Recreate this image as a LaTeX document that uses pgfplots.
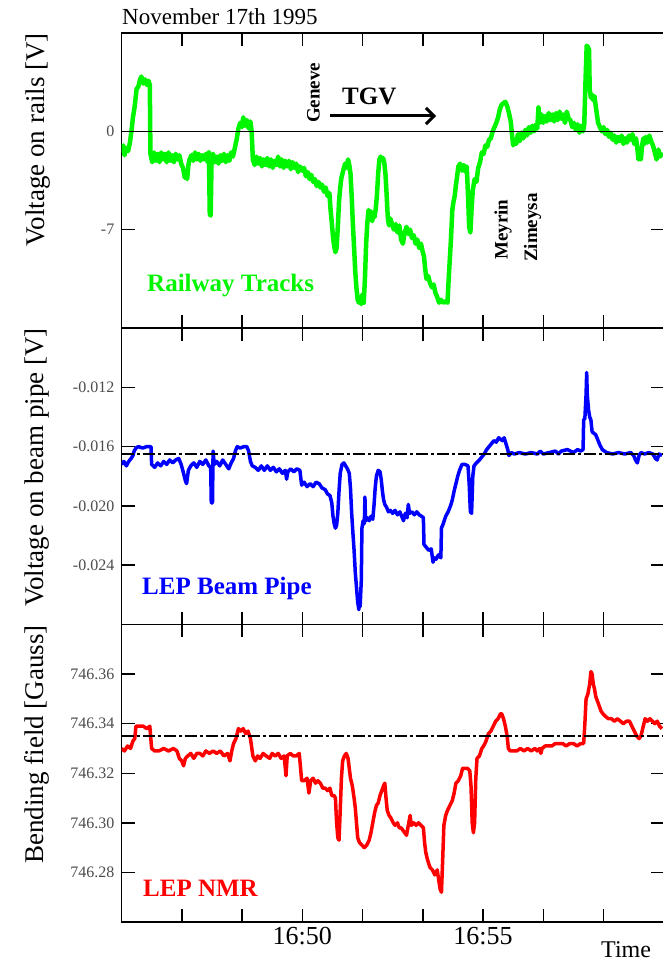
\documentclass[border=0pt]{standalone}
\usepackage{fontspec}
\setmainfont{Liberation Serif}
\usepackage{pgfplots}
\usepackage{pgfplotstable}
\pgfplotsset{compat=1.18}
\usetikzlibrary{arrows.meta}
\definecolor{railgreen}{RGB}{0,245,0}
\definecolor{pipeblue}{RGB}{0,0,255}
\definecolor{nmrred}{RGB}{255,0,0}

% time in seconds after 16:45
\pgfplotstableread{
t v
0 -1.5
3 -1.0
5 -1.7
8 -1.2
11 -1.4
14 -0.8
17 0.2
19 1.0
22 1.8
25 3.0
28 3.2
31 3.7
33 3.9
36 3.4
39 3.7
42 3.3
45 3.6
47 3.3
48 -1.6
51 -2.2
54 -1.5
57 -2.1
60 -1.6
63 -2.2
66 -1.5
69 -2.0
72 -1.6
75 -2.2
78 -1.5
81 -2.1
84 -1.7
87 -2.2
90 -1.6
93 -2.0
96 -1.7
99 -2.3
102 -2.6
105 -3.3
107 -3.0
109 -3.4
111 -2.4
113 -2.0
116 -1.7
119 -2.1
122 -1.5
125 -2.0
128 -1.6
131 -2.1
134 -1.7
137 -2.0
140 -1.6
143 -2.2
145 -1.5
146.5 -5.9
148 -6.0
149.5 -2.0
152 -1.6
155 -2.2
158 -1.8
161 -2.3
164 -1.7
167 -2.1
170 -1.6
173 -2.2
176 -1.7
179 -2.1
182 -1.5
185 -1.8
188 -1.2
191 -0.6
194 0.2
197 0.6
200 0.3
202 1.0
205 0.4
208 0.8
211 0.2
214 0.7
216 0.0
218 -2.0
221 -2.4
224 -1.8
227 -2.3
230 -1.9
233 -2.5
236 -2.0
239 -2.4
242 -1.9
245 -2.5
248 -2.0
251 -2.6
254 -2.1
257 -2.4
260 -1.8
263 -2.5
266 -2.0
269 -2.6
272 -2.1
275 -2.5
278 -2.1
281 -2.7
284 -2.2
287 -2.6
290 -2.3
293 -2.9
296 -2.5
300 -2.8
303 -2.6
306 -3.2
309 -2.9
312 -3.4
315 -3.1
318 -3.6
321 -3.4
324 -3.9
327 -3.6
330 -4.0
333 -3.8
336 -4.3
339 -4.0
342 -4.6
345 -4.4
347 -5.6
349 -6.5
351 -7.5
353 -8.2
355 -8.6
357 -8.3
359 -6.8
361 -5.0
363 -4.0
365 -3.3
368 -2.8
371 -2.3
374 -2.6
376 -2.0
378 -2.4
380 -3.0
382 -4.6
384 -6.6
386 -8.3
388 -10.0
390 -11.2
392 -12.0
394 -12.2
396 -11.8
398 -12.3
400 -11.6
402 -12.2
404 -10.5
406 -8.0
408 -6.5
410 -5.6
412 -6.2
414 -5.7
416 -6.4
418 -5.8
420 -6.1
422 -5.5
424 -4.5
426 -3.0
428 -2.0
430 -1.8
432 -2.0
434 -1.9
436 -2.2
438 -3.0
440 -4.5
442 -6.2
444 -6.7
446 -6.2
449 -6.6
452 -7.0
455 -6.6
458 -7.2
461 -6.7
464 -7.7
467 -8.0
470 -7.2
473 -6.8
476 -7.3
479 -7.0
482 -7.6
485 -7.4
488 -8.0
491 -7.7
494 -8.3
497 -8.0
500 -8.6
502 -8.9
504 -9.8
506 -10.5
509 -10.3
512 -10.8
515 -11.1
518 -10.9
521 -11.5
524 -11.8
527 -12.2
530 -12.0
534 -12.2
538 -12.1
541 -12.2
543 -10.5
545 -9.0
547 -7.5
549 -5.6
551 -5.0
553 -4.6
555 -3.8
557 -3.2
559 -2.5
562 -2.3
565 -2.8
568 -2.4
571 -2.9
573 -2.5
575 -4.5
577 -6.8
579 -7.2
581 -5.5
583 -4.2
586 -3.4
589 -3.6
592 -2.6
595 -2.2
598 -1.5
601 -1.6
604 -1.0
607 -1.1
610 -0.6
613 -0.5
616 0.0
619 0.3
622 0.6
625 1.0
628 1.6
631 1.9
634 2.0
637 2.1
640 1.8
643 1.3
646 0.7
648 -0.2
650 -1.0
652 -0.6
655 -0.9
658 -0.2
661 -0.7
664 -0.1
667 -0.5
670 0.1
673 -0.3
676 0.3
679 -0.1
682 0.4
685 0.0
688 0.5
690 0.2
692 1.7
694 0.6
697 1.2
700 0.6
703 1.1
706 0.7
709 1.3
712 0.8
715 1.2
718 0.7
721 1.3
724 0.8
727 1.4
730 0.9
733 1.2
736 0.6
739 1.4
742 0.9
745 0.8
748 0.3
751 0.6
754 0.1
757 0.5
760 -0.1
763 0.4
766 0.0
768 0.5
770 3.5
772 6.1
774 6.0
776 5.8
777 3.0
779 2.4
781 2.6
783 2.2
785 2.5
787 1.8
789 1.2
791 0.6
794 0.3
797 0.0
800 0.3
803 -0.2
806 0.1
809 -0.4
812 -0.1
815 -0.6
818 -0.3
821 -0.8
824 -0.4
827 -0.7
830 -0.3
833 -0.9
836 -0.5
839 -0.8
842 -0.3
845 -0.6
848 -0.2
851 -0.9
854 -0.5
856 -1.2
858 -2.0
860 -1.6
862 -2.0
864 -1.0
866 -0.5
868 -0.9
870 -0.4
873 -0.8
876 -0.3
879 -0.7
882 -1.0
885 -1.5
888 -2.0
891 -1.3
894 -1.8
897 -1.5
}\railtable

\pgfplotstableread{
t v
0 -0.0172
4 -0.0170
8 -0.0173
12 -0.0170
16 -0.0168
19 -0.0166
21 -0.0163
24 -0.0161
28 -0.0160
35 -0.0161
42 -0.0160
49 -0.0160
50 -0.0172
55 -0.0174
60 -0.0171
65 -0.0173
70 -0.0170
75 -0.0172
80 -0.0169
85 -0.0171
90 -0.0169
95 -0.0168
99 -0.0172
103 -0.0178
106 -0.0183
108 -0.0185
111 -0.0176
115 -0.0173
120 -0.0171
125 -0.0174
130 -0.0170
135 -0.0172
140 -0.0169
145 -0.0173
148 -0.0174
149 -0.0198
151 -0.0198
152 -0.0163
154 -0.0172
158 -0.0170
163 -0.0173
168 -0.0169
173 -0.0172
178 -0.0175
182 -0.0171
186 -0.0168
189 -0.0163
192 -0.0160
197 -0.0161
203 -0.0160
208 -0.0160
211 -0.0163
214 -0.0170
217 -0.0173
222 -0.0174
227 -0.0176
232 -0.0173
237 -0.0176
242 -0.0173
247 -0.0176
252 -0.0174
257 -0.0177
262 -0.0175
267 -0.0178
272 -0.0176
274 -0.0182
276 -0.0177
281 -0.0175
286 -0.0177
291 -0.0175
296 -0.0176
299 -0.0186
303 -0.0184
308 -0.0187
313 -0.0185
318 -0.0187
323 -0.0184
328 -0.0185
333 -0.0188
338 -0.0189
342 -0.0192
346 -0.0193
349 -0.0198
351 -0.0207
353 -0.0212
355 -0.0215
357 -0.0213
359 -0.0205
361 -0.0190
363 -0.0178
366 -0.0172
369 -0.0171
372 -0.0173
375 -0.0175
378 -0.0178
380 -0.0188
382 -0.0205
384 -0.0218
386 -0.0230
388 -0.0245
390 -0.0255
392 -0.0265
394 -0.0270
395 -0.0262
396 -0.0268
398 -0.0250
399 -0.0215
401 -0.0210
403 -0.0212
404 -0.0194
405 -0.0210
408 -0.0208
411 -0.0210
414 -0.0207
417 -0.0209
419 -0.0200
421 -0.0188
423 -0.0180
426 -0.0176
429 -0.0177
431 -0.0182
433 -0.0190
435 -0.0196
437 -0.0199
440 -0.0201
443 -0.0204
446 -0.0203
450 -0.0205
454 -0.0203
458 -0.0206
462 -0.0204
465 -0.0207
468 -0.0210
471 -0.0205
474 -0.0208
476 -0.0199
478 -0.0205
482 -0.0204
486 -0.0206
490 -0.0204
494 -0.0206
498 -0.0207
501 -0.0208
502 -0.0226
506 -0.0228
510 -0.0230
514 -0.0229
517 -0.0238
519 -0.0235
522 -0.0236
526 -0.0233
530 -0.0235
531 -0.0215
534 -0.0212
538 -0.0207
542 -0.0204
546 -0.0200
549 -0.0196
552 -0.0190
555 -0.0185
558 -0.0180
561 -0.0176
565 -0.0172
570 -0.0172
575 -0.0173
577 -0.0185
579 -0.0204
581 -0.0205
583 -0.0180
585 -0.0173
589 -0.0171
594 -0.0169
598 -0.0167
602 -0.0165
606 -0.0162
610 -0.0160
614 -0.0158
618 -0.0156
622 -0.0157
626 -0.0154
629 -0.0155
632 -0.0156
635 -0.0154
638 -0.0158
641 -0.0162
643 -0.0166
647 -0.0164
652 -0.0165
660 -0.0164
670 -0.0165
680 -0.0164
690 -0.0165
695 -0.0163
700 -0.0165
710 -0.0164
720 -0.0163
725 -0.0165
730 -0.0163
740 -0.0162
750 -0.0164
757 -0.0162
762 -0.0163
766 -0.0162
767 -0.0142
769 -0.0141
771 -0.0125
772 -0.0110
773 -0.0125
775 -0.0135
777 -0.0140
779 -0.0142
781 -0.0150
784 -0.0151
787 -0.0152
790 -0.0155
794 -0.0159
798 -0.0162
805 -0.0164
815 -0.0165
825 -0.0164
835 -0.0165
845 -0.0164
850 -0.0166
853 -0.0169
856 -0.0171
859 -0.0166
862 -0.0164
868 -0.0165
875 -0.0164
882 -0.0165
886 -0.0168
889 -0.0169
892 -0.0165
897 -0.0166
}\pipetable

\pgfplotstableread{
t v
0 746.330
5 746.329
10 746.331
15 746.330
19 746.333
22 746.334
24 746.339
30 746.339
36 746.339
42 746.338
47 746.339
50 746.330
55 746.329
62 746.329
70 746.330
78 746.329
86 746.330
92 746.329
96 746.326
100 746.325
103 746.323
106 746.326
110 746.327
115 746.328
120 746.326
125 746.328
130 746.328
135 746.327
140 746.329
146 746.328
152 746.329
158 746.328
164 746.329
170 746.327
176 746.328
180 746.325
183 746.329
186 746.332
190 746.334
194 746.338
198 746.337
202 746.338
206 746.336
210 746.337
214 746.334
218 746.327
222 746.325
226 746.327
230 746.326
235 746.328
240 746.327
246 746.326
250 746.328
255 746.327
260 746.328
265 746.326
270 746.327
273 746.319
275 746.327
280 746.328
285 746.327
290 746.327
295 746.328
299 746.317
303 746.317
308 746.318
311 746.312
314 746.317
318 746.318
322 746.316
326 746.317
330 746.316
334 746.314
338 746.314
342 746.313
346 746.314
349 746.311
353 746.311
355 746.310
357 746.300
359 746.294
361 746.293
363 746.305
365 746.318
367 746.325
370 746.327
373 746.328
376 746.326
378 746.322
380 746.318
383 746.315
386 746.310
388 746.306
390 746.300
392 746.294
395 746.292
399 746.291
403 746.290
407 746.291
411 746.293
414 746.296
417 746.300
420 746.304
423 746.307
426 746.308
429 746.311
432 746.313
435 746.315
437 746.316
439 746.310
441 746.305
444 746.303
447 746.302
451 746.300
454 746.299
458 746.300
461 746.298
464 746.298
467 746.297
470 746.296
473 746.295
476 746.299
479 746.303
481 746.299
485 746.300
489 746.299
493 746.300
497 746.299
501 746.298
503 746.292
505 746.288
508 746.285
512 746.282
516 746.281
520 746.279
524 746.281
527 746.276
529 746.273
531 746.272
533 746.285
535 746.299
538 746.303
541 746.305
545 746.307
549 746.309
552 746.312
555 746.316
559 746.317
563 746.319
566 746.322
570 746.322
574 746.322
578 746.321
580 746.315
582 746.300
584 746.296
586 746.300
588 746.318
590 746.326
594 746.327
598 746.330
601 746.331
605 746.333
609 746.336
613 746.337
617 746.339
621 746.341
625 746.342
629 746.344
631 746.344
634 746.342
637 746.339
640 746.335
642 746.330
645 746.329
650 746.329
656 746.329
662 746.330
668 746.329
674 746.330
680 746.329
686 746.330
690 746.329
694 746.330
696 746.328
698 746.330
703 746.331
708 746.331
714 746.331
720 746.332
726 746.332
732 746.332
738 746.331
744 746.332
750 746.332
756 746.331
762 746.332
767 746.332
769 746.340
771 746.350
774 746.352
777 746.356
779 746.361
781 746.360
783 746.356
785 746.354
787 746.351
790 746.349
793 746.347
796 746.345
799 746.344
803 746.343
808 746.342
813 746.342
818 746.341
823 746.342
828 746.341
833 746.340
838 746.341
843 746.341
847 746.339
851 746.337
855 746.335
859 746.334
862 746.335
866 746.339
869 746.342
873 746.341
877 746.342
881 746.341
885 746.340
889 746.341
893 746.339
897 746.338
}\nmrtable

\pgfplotsset{
  panel/.style={
    scale only axis, width=542.3pt,
    xmin=0, xmax=900, xtick={0,100,...,900}, xticklabels={},
    scaled x ticks=false, scaled y ticks=false,
    tick align=inside, tick pos=both,
    major tick length=13pt,
    axis line style={line width=1.5pt},
    tick style={black, line width=1.5pt},
    yticklabel style={font=\fontsize{16}{16}\selectfont, text=black!70, inner sep=0pt, xshift=-7pt},
  },
  refline/.style={black, line width=1.5pt, dash pattern=on 12pt off 3pt on 3pt off 3pt},
}

\begin{document}
\begin{tikzpicture}
\begin{axis}[panel, at={(121.5pt,-33pt)}, anchor=north west, height=295pt,
  ymin=-14, ymax=7, ytick={-14,-7,0,7}, yticklabels={,-7,0,}]
\addplot[railgreen, line width=4.5pt, line join=round] table[x=t, y=v] {\railtable};
\addplot[black, line width=1.5pt] coordinates {(0,0) (900,0)};
\end{axis}

\begin{axis}[panel, at={(121.5pt,-328pt)}, anchor=north west, height=296.5pt,
  ymin=-0.028, ymax=-0.008, ytick={-0.028,-0.024,-0.020,-0.016,-0.012,-0.008},
  yticklabels={,-0.024,-0.020,-0.016,-0.012,}]
\addplot[pipeblue, line width=3.5pt, line join=round] table[x=t, y=v] {\pipetable};
\addplot[refline] coordinates {(0,-0.0165) (900,-0.0165)};
\end{axis}

\begin{axis}[panel, at={(121.5pt,-624.5pt)}, anchor=north west, height=297.5pt,
  ymin=746.26, ymax=746.38, ytick={746.26,746.28,746.30,746.32,746.34,746.36,746.38},
  yticklabels={,746.28,746.30,746.32,746.34,746.36,},
  xticklabels={,,,16:50,,,16:55,,,},
  xticklabel style={font=\fontsize{26}{26}\selectfont, inner sep=0pt, yshift=-5pt}]
\addplot[nmrred, line width=3.5pt, line join=round] table[x=t, y=v] {\nmrtable};
\addplot[refline] coordinates {(0,746.335) (900,746.335)};
\end{axis}

% texts
\node[anchor=base west, inner sep=0pt, font=\fontsize{23}{23}\selectfont] at (122pt,-25pt) {November 17th 1995};
\node[rotate=90, anchor=east, inner sep=0pt, font=\fontsize{27}{27}\selectfont] at (38pt,-33pt) {Voltage on rails [V]};
\node[rotate=90, anchor=east, inner sep=0pt, font=\fontsize{27}{27}\selectfont] at (37pt,-328pt) {Voltage on beam pipe [V]};
\node[rotate=90, anchor=east, inner sep=0pt, font=\fontsize{27}{27}\selectfont] at (37pt,-625pt) {Bending field [Gauss]};

\node[anchor=base west, inner sep=0pt, font=\fontsize{25}{25}\selectfont\bfseries, text=railgreen] at (147pt,-291pt) {Railway Tracks};
\node[anchor=base west, inner sep=0pt, font=\fontsize{25}{25}\selectfont\bfseries, text=pipeblue] at (142pt,-594.7pt) {LEP Beam Pipe};
\node[anchor=base west, inner sep=0pt, font=\fontsize{25}{25}\selectfont\bfseries, text=nmrred] at (143pt,-896.7pt) {LEP NMR};

\node[rotate=90, anchor=west, inner sep=0pt, font=\fontsize{19}{19}\selectfont\bfseries] at (313.5pt,-123pt) {Geneve};
\node[rotate=90, anchor=west, inner sep=0pt, font=\fontsize{19}{19}\selectfont\bfseries] at (503pt,-260pt) {Meyrin};
\node[rotate=90, anchor=west, inner sep=0pt, font=\fontsize{19}{19}\selectfont\bfseries] at (532.5pt,-262pt) {Zimeysa};
\node[anchor=base west, inner sep=0pt, font=\fontsize{25}{25}\selectfont\bfseries] at (342pt,-105pt) {TGV};
\draw[line width=3pt, -{Straight Barb[length=8pt,width=16pt]}] (330pt,-116pt) -- (436pt,-116pt);

\node[anchor=base west, inner sep=0pt, font=\fontsize{24}{24}\selectfont] at (601pt,-957pt) {Time};

\pgfresetboundingbox
\path[use as bounding box] (0pt,0pt) rectangle (662pt,-963pt);
\end{tikzpicture}
\end{document}
